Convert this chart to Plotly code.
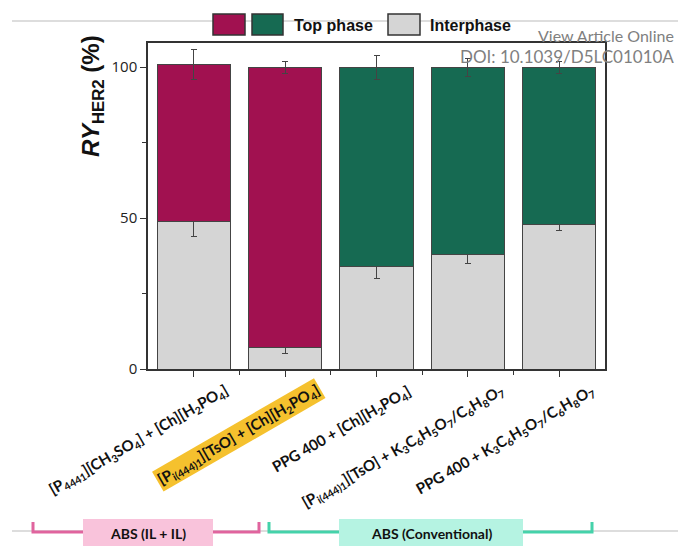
import plotly.graph_objects as go

# ---- data ----
categories = [
    "[P<sub>4441</sub>][CH<sub>3</sub>SO<sub>4</sub>] + [Ch][H<sub>2</sub>PO<sub>4</sub>]",
    "[P<sub>i(444)1</sub>][TsO] + [Ch][H<sub>2</sub>PO<sub>4</sub>]",
    "PPG 400 + [Ch][H<sub>2</sub>PO<sub>4</sub>]",
    "[P<sub>i(444)1</sub>][TsO] + K<sub>3</sub>C<sub>6</sub>H<sub>5</sub>O<sub>7</sub>/C<sub>6</sub>H<sub>8</sub>O<sub>7</sub>",
    "PPG 400 + K<sub>3</sub>C<sub>6</sub>H<sub>5</sub>O<sub>7</sub>/C<sub>6</sub>H<sub>8</sub>O<sub>7</sub>",
]
interphase = [49, 7, 34, 38, 48]
interphase_err = [5, 2, 4, 3, 2]
top_phase = [52, 93, 66, 62, 52]
top_phase_err = [5, 2, 4, 3, 2]
highlighted = [False, True, False, False, False]
top_colors = ["#A11150", "#A11150", "#166A52", "#166A52", "#166A52"]
group_labels = ["ABS (IL + IL)", "ABS (Conventional)"]
yticks = [0, 50, 100]

PAGE_W, PAGE_H = 678, 546
L, R, T, B = 148, 605, 43, 369


def X(px):
    return (px - L) / (R - L)


def Y(py):
    return (B - py) / (B - T)


xpos = list(range(len(categories)))
fig = go.Figure()
fig.add_trace(go.Bar(
    x=xpos, y=interphase, name="Interphase",
    marker=dict(color="#D5D5D5", line=dict(color="#444", width=1)),
    error_y=dict(type="data", array=interphase_err, color="#444",
                 thickness=1, width=3),
))
fig.add_trace(go.Bar(
    x=xpos, y=top_phase, name="Top phase",
    marker=dict(color=top_colors, line=dict(color="#444", width=1)),
    error_y=dict(type="data", array=top_phase_err, color="#444",
                 thickness=1, width=3),
))

shapes = []
annotations = []
# page lines
shapes.append(dict(type="line", xref="paper", yref="paper", x0=X(12), x1=X(678),
                   y0=Y(21), y1=Y(21), line=dict(color="#BBBBBB", width=1)))
shapes.append(dict(type="line", xref="paper", yref="paper", x0=X(12), x1=X(678),
                   y0=Y(531), y1=Y(531), line=dict(color="#BBBBBB", width=1)))
# legend swatches
for (x0, x1, c) in [(213, 245, "#A11150"), (252, 283, "#166A52"), (388, 420, "#D5D5D5")]:
    shapes.append(dict(type="rect", xref="paper", yref="paper", x0=X(x0), x1=X(x1),
                       y0=Y(35), y1=Y(14), fillcolor=c,
                       line=dict(color="#333", width=1.5)))
annotations.append(dict(text="<b>Top phase</b>", xref="paper", yref="paper",
                        x=X(292), y=Y(25), xanchor="left", yanchor="middle",
                        showarrow=False, font=dict(family="Liberation Sans", size=16, color="#111")))
annotations.append(dict(text="<b>Interphase</b>", xref="paper", yref="paper",
                        x=X(428), y=Y(25), xanchor="left", yanchor="middle",
                        showarrow=False, font=dict(family="Liberation Sans", size=16, color="#111")))

# brackets
brackets = [(33, 259, "#E0649E", "#F9C3DB", 83, 213),
            (269, 592, "#45D2AA", "#B5F3E2", 339, 523)]
for (bx0, bx1, lc, fc, rx0, rx1), lab in zip(brackets, group_labels):
    shapes.append(dict(type="path", xref="paper", yref="paper",
                       path=f"M {X(bx0)},{Y(522)} L {X(bx0)},{Y(532)} L {X(bx1)},{Y(532)} L {X(bx1)},{Y(522)}",
                       line=dict(color=lc, width=3)))
    shapes.append(dict(type="rect", xref="paper", yref="paper", x0=X(rx0), x1=X(rx1),
                       y0=Y(548), y1=Y(519), fillcolor=fc, line=dict(width=0)))
    annotations.append(dict(text=f"<b>{lab}</b>", xref="paper", yref="paper",
                            x=X((rx0 + rx1) / 2), y=Y(533), xanchor="center", yanchor="middle",
                            showarrow=False, font=dict(family="Lato", size=14, color="#111")))

# category labels
for i, (cat, hl) in enumerate(zip(categories, highlighted)):
    a = dict(text=f"<b>{cat}</b>", x=xpos[i], xref="x", y=0, yref="paper",
             xanchor="right", yanchor="top", xshift=41, yshift=-9,
             textangle=-30, showarrow=False,
             font=dict(family="Lato", size=15, color="#111"))
    if hl:
        a["bgcolor"] = "#F5C12E"
        a["borderpad"] = 1
    annotations.append(a)

# y title
annotations.append(dict(text="<b><i>RY</i><sub>HER2</sub> (%)</b>", xref="paper", yref="paper",
                        x=X(93), y=Y(96), xanchor="center", yanchor="middle",
                        textangle=-90, showarrow=False,
                        font=dict(family="Liberation Sans", size=24, color="#111")))
# watermark
annotations.append(dict(text="View Article Online", xref="paper", yref="paper",
                        x=X(676), y=Y(36), xanchor="right", yanchor="middle", showarrow=False,
                        font=dict(family="Lato", size=16, color="#808080")))
annotations.append(dict(text="DOI: 10.1039/D5LC01010A", xref="paper", yref="paper",
                        x=X(676), y=Y(57), xanchor="right", yanchor="middle", showarrow=False,
                        font=dict(family="Lato", size=17, color="#808080")))

fig.update_layout(
    width=PAGE_W, height=PAGE_H,
    margin=dict(l=L, r=PAGE_W - R, t=T, b=PAGE_H - B, pad=0),
    barmode="stack", bargap=0.2,
    showlegend=False,
    plot_bgcolor="white", paper_bgcolor="white",
    shapes=shapes, annotations=annotations,
    xaxis=dict(range=[-0.5, len(categories) - 0.5], tickvals=xpos, showticklabels=False,
               ticks="outside", ticklen=6, tickcolor="#333", tickwidth=1,
               minor=dict(tickvals=[i + 0.5 for i in xpos[:-1]], ticks="outside",
                          ticklen=4, tickcolor="#333", tickwidth=1),
               showline=True, linecolor="#333", linewidth=1.5, mirror=True,
               showgrid=False, zeroline=False),
    yaxis=dict(range=[0, 108], tickvals=yticks, ticks="outside", ticklen=6,
               tickcolor="#333", tickwidth=1,
               minor=dict(tickvals=[25, 75], ticks="outside", ticklen=4,
                          tickcolor="#333", tickwidth=1),
               tickfont=dict(family="Open Sans", size=15, color="#222"),
               showline=True, linecolor="#333", linewidth=1.5, mirror=True,
               showgrid=False, zeroline=False),
)

fig.write_html(
    "out.html",
    config={"displayModeBar": False},
    post_script="document.body.style.margin='0';document.body.style.overflow='hidden';",
)
